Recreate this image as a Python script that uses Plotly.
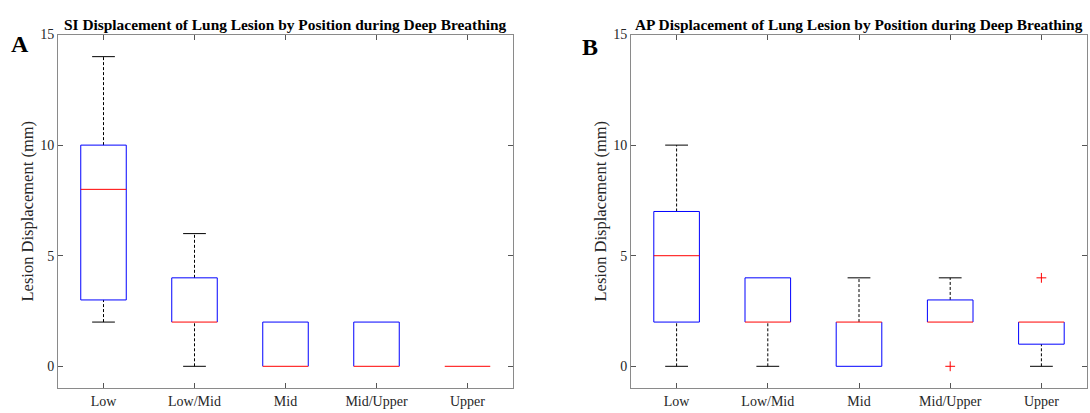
import plotly.graph_objects as go

W, H = 1090, 413

categories = ["Low", "Low/Mid", "Mid", "Mid/Upper", "Upper"]

# Panel A: SI displacement (mm)
si_lower = [2, 0, 0, 0, 0]
si_q1 = [3, 2, 0, 0, 0]
si_median = [8, 2, 0, 0, 0]
si_q3 = [10, 4, 2, 2, 0]
si_upper = [14, 6, 2, 2, 0]
si_outliers = [[], [], [], [], []]

# Panel B: AP displacement (mm)
ap_lower = [0, 0, 0, 2, 0]
ap_q1 = [2, 2, 0, 2, 1]
ap_median = [5, 2, 2, 2, 2]
ap_q3 = [7, 4, 2, 3, 2]
ap_upper = [10, 4, 4, 4, 2]
ap_outliers = [[], [], [], [0], [4]]

titles = ["SI Displacement of Lung Lesion by Position during Deep Breathing",
          "AP Displacement of Lung Lesion by Position during Deep Breathing"]
panel_letters = ["A", "B"]
ytitle = "Lesion Displacement (mm)"
yticks = [0, 5, 10, 15]

FONT = "Liberation Serif, Times New Roman, serif"
BOX_HALF = 0.25
CAP_HALF = 0.125

fig = go.Figure()


def add_panel(lower, q1, med, q3, upper, outl, xa, ya):
    pos = list(range(1, len(categories) + 1))
    wx, wy, cx, cy = [], [], [], []
    for p, lo, a, b, up in zip(pos, lower, q1, q3, upper):
        if up > b:
            wx += [p, p, None]
            wy += [b, up, None]
            cx += [p - CAP_HALF, p + CAP_HALF, None]
            cy += [up, up, None]
        if lo < a:
            wx += [p, p, None]
            wy += [lo, a, None]
            cx += [p - CAP_HALF, p + CAP_HALF, None]
            cy += [lo, lo, None]
    fig.add_trace(go.Scatter(x=wx, y=wy, mode="lines", xaxis=xa, yaxis=ya,
                             line=dict(color="black", width=1, dash="3px,2px"),
                             hoverinfo="skip", showlegend=False))
    fig.add_trace(go.Scatter(x=cx, y=cy, mode="lines", xaxis=xa, yaxis=ya,
                             line=dict(color="black", width=1),
                             hoverinfo="skip", showlegend=False))
    # boxes as separate edges, skipping an edge hidden under the median
    bx, by = [], []
    for p, a, m, b in zip(pos, q1, med, q3):
        l, r = p - BOX_HALF, p + BOX_HALF
        if b > a:
            bx += [l, l, None, r, r, None]
            by += [a, b, None, a, b, None]
        if m != a:
            bx += [l, r, None]
            by += [a, a, None]
        if m != b:
            bx += [l, r, None]
            by += [b, b, None]
    fig.add_trace(go.Scatter(x=bx, y=by, mode="lines", xaxis=xa, yaxis=ya,
                             line=dict(color="#0000ff", width=1),
                             hoverinfo="skip", showlegend=False))
    mx, my = [], []
    for p, m in zip(pos, med):
        mx += [p - BOX_HALF, p + BOX_HALF, None]
        my += [m, m, None]
    fig.add_trace(go.Scatter(x=mx, y=my, mode="lines", xaxis=xa, yaxis=ya,
                             line=dict(color="#ff0000", width=1),
                             hoverinfo="skip", showlegend=False))
    ox, oy = [], []
    for p, vals in zip(pos, outl):
        for v in vals:
            ox.append(p)
            oy.append(v)
    if ox:
        fig.add_trace(go.Scatter(x=ox, y=oy, mode="markers", xaxis=xa, yaxis=ya,
                                 marker=dict(symbol="cross-thin", size=7,
                                             line=dict(color="#ff0000", width=1)),
                                 hoverinfo="skip", showlegend=False))


add_panel(si_lower, si_q1, si_median, si_q3, si_upper, si_outliers, "x", "y")
add_panel(ap_lower, ap_q1, ap_median, ap_q3, ap_upper, ap_outliers, "x2", "y2")

panels_px = [(58, 513), (631, 1087)]
top_px, bot_px = 28, 388
ydom = [1 - bot_px / H, 1 - top_px / H]

axis_common = dict(showline=True, linecolor="#8a8a8a", linewidth=1, mirror="ticks",
                   ticks="inside", ticklen=5, tickcolor="#555555",
                   showgrid=False, zeroline=False,
                   tickfont=dict(family=FONT, size=14, color="#262626"))

fig.update_layout(
    width=W, height=H, margin=dict(l=0, r=0, t=0, b=0),
    paper_bgcolor="white", plot_bgcolor="white",
    xaxis=dict(domain=[panels_px[0][0] / W, panels_px[0][1] / W], range=[0.5, 5.5],
               tickvals=[1, 2, 3, 4, 5], ticktext=categories, anchor="y", **axis_common),
    yaxis=dict(domain=ydom, range=[-1, 15], tickvals=yticks, anchor="x", **axis_common),
    xaxis2=dict(domain=[panels_px[1][0] / W, panels_px[1][1] / W], range=[0.5, 5.5],
                tickvals=[1, 2, 3, 4, 5], ticktext=categories, anchor="y2", **axis_common),
    yaxis2=dict(domain=ydom, range=[-1, 15], tickvals=yticks, anchor="x2", **axis_common),
)

letter_pos = [(20, 38), (590, 41)]
ytitle_x = [27, 600]
for i, (l, r) in enumerate(panels_px):
    cx = (l + r) / 2
    fig.add_annotation(x=cx / W, y=1 - 18 / H, xref="paper", yref="paper",
                       text="<b>" + titles[i] + "</b>", showarrow=False,
                       xanchor="center", yanchor="middle",
                       font=dict(family=FONT, size=15.4, color="black"))
    fig.add_annotation(x=letter_pos[i][0] / W, y=1 - letter_pos[i][1] / H,
                       xref="paper", yref="paper", text="<b>" + panel_letters[i] + "</b>",
                       showarrow=False, xanchor="center", yanchor="middle",
                       font=dict(family=FONT, size=24, color="black"))
    fig.add_annotation(x=ytitle_x[i] / W, y=1 - ((top_px + bot_px) / 2) / H,
                       xref="paper", yref="paper", text=ytitle, textangle=-90,
                       showarrow=False, xanchor="center", yanchor="middle",
                       font=dict(family=FONT, size=16.5, color="#262626"))

fig.write_html("out.html")
